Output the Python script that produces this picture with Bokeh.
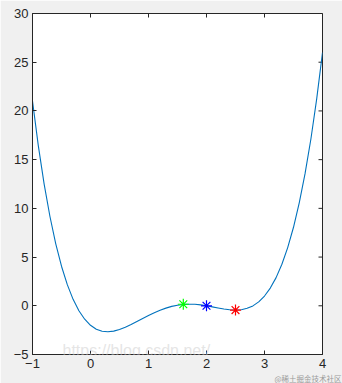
import math
from bokeh.plotting import figure
from bokeh.models import LinearAxis, FixedTicker, Range1d, Label, Title
from bokeh.embed import file_html
from bokeh.resources import INLINE

# curve values
x_vals = [-1.0, -0.9, -0.8, -0.7, -0.6, -0.5, -0.4, -0.3, -0.2, -0.1,
          0.0, 0.1, 0.2, 0.3, 0.4, 0.5, 0.6, 0.7, 0.8, 0.9,
          1.0, 1.1, 1.2, 1.3, 1.4, 1.5, 1.6, 1.7, 1.8, 1.9,
          2.0, 2.1, 2.2, 2.3, 2.4, 2.5, 2.6, 2.7, 2.8, 2.9,
          3.0, 3.1, 3.2, 3.3, 3.4, 3.5, 3.6, 3.7, 3.8, 3.9, 4.0]
y_vals = [21.0, 16.44, 12.52, 9.19, 6.39, 4.06, 2.17, 0.66, -0.51, -1.38,
          -2.0, -2.40, -2.61, -2.66, -2.60, -2.44, -2.21, -1.93, -1.62, -1.31,
          -1.0, -0.71, -0.45, -0.24, -0.06, 0.06, 0.14, 0.16, 0.15, 0.09,
          0.0, -0.11, -0.22, -0.33, -0.41, -0.44, -0.40, -0.26, -0.01, 0.40,
          1.0, 1.82, 2.89, 4.26, 5.97, 8.06, 10.59, 13.59, 17.12, 21.24, 26.0]

# marked points
green_pt = ([1.6], [0.16])
blue_pt = ([2.0], [0.0])
red_pt = ([2.5], [-0.44])

x_ticks = [-1, 0, 1, 2, 3, 4]
y_ticks = [-5, 0, 5, 10, 15, 20, 25, 30]
x_min, x_max = -1, 4
y_min, y_max = -5, 30

axis_color = "#262626"
font = "Liberation Sans"

p = figure(width=342, height=383, output_backend="svg", toolbar_location=None,
           x_range=Range1d(x_min, x_max), y_range=Range1d(y_min, y_max),
           x_axis_location=None, y_axis_location=None,
           min_border_left=32, min_border_right=20, min_border_top=13,
           min_border_bottom=27)
p.background_fill_color = "white"
p.border_fill_color = "#f0f0f0"
p.outline_line_color = axis_color
p.outline_line_width = 1
p.grid.visible = False

def make_axis(ticks):
    ax = LinearAxis(ticker=FixedTicker(ticks=ticks))
    ax.axis_line_color = axis_color
    ax.major_tick_line_color = axis_color
    ax.major_tick_in = 4
    ax.major_tick_out = 0
    ax.minor_tick_line_color = None
    ax.major_label_text_font = font
    ax.major_label_text_font_size = "13px"
    ax.major_label_text_color = axis_color
    ax.major_label_standoff = 4
    return ax

p.add_layout(make_axis(x_ticks), "below")
p.add_layout(make_axis(y_ticks), "left")

# credit line below the axis
p.add_layout(Title(text="@稀土掘金技术社区", align="right", offset=-19,
                   standoff=0, text_font="Noto Sans CJK SC",
                   text_font_size="7.5px", text_font_style="normal",
                   text_color="#9a9a9a"), "below")

# box ticks on top and right edges (half of each dash is clipped by the frame)
p.scatter(x_ticks, [y_max] * len(x_ticks), marker="dash", size=8,
          angle=math.pi / 2, line_color=axis_color, line_width=1)
p.scatter([x_max] * len(y_ticks), y_ticks, marker="dash", size=8,
          line_color=axis_color, line_width=1)

p.line(x_vals, y_vals, line_color="#0072BD", line_width=1.1)

p.scatter(green_pt[0], green_pt[1], marker="asterisk", size=11,
          line_color="#00FF00", line_width=1.2)
p.scatter(blue_pt[0], blue_pt[1], marker="asterisk", size=11,
          line_color="#0000FF", line_width=1.2)
p.scatter(red_pt[0], red_pt[1], marker="asterisk", size=11,
          line_color="#FF0000", line_width=1.2)

# watermark (position relative to the plot frame)
p.add_layout(Label(x=30, y=-4, x_units="screen", y_units="screen",
                   text="https://blog.csdn.net/", text_font=font,
                   text_font_size="16px", text_color="#e2e2e2", text_alpha=0.9))

open("out.html", "w").write(file_html(p, INLINE))
